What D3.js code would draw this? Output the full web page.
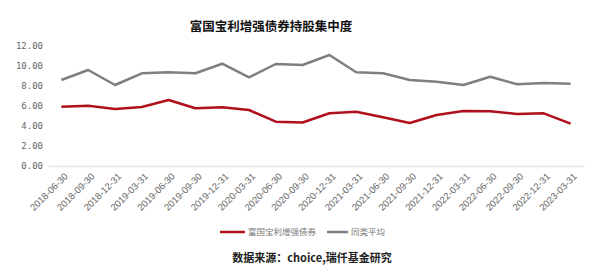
<!DOCTYPE html>
<html><head><meta charset="utf-8">
<script src="https://cdn.jsdelivr.net/npm/d3@7"></script>
<style>body{margin:0;background:#fff}svg{display:block}</style>
</head><body>
<svg id="c" width="600" height="277"></svg>
<script>
const categories = ["2018-06-30","2018-09-30","2018-12-31","2019-03-31","2019-06-30","2019-09-30","2019-12-31","2020-03-31","2020-06-30","2020-09-30","2020-12-31","2021-03-31","2021-06-30","2021-09-30","2021-12-31","2022-03-31","2022-06-30","2022-09-30","2022-12-31","2023-03-31"];
const fundValues = [5.93,6.03,5.70,5.90,6.60,5.77,5.87,5.60,4.43,4.35,5.27,5.43,4.87,4.30,5.10,5.50,5.47,5.20,5.27,4.23];
const peerValues = [8.60,9.60,8.10,9.27,9.37,9.27,10.23,8.87,10.20,10.10,11.10,9.37,9.27,8.60,8.43,8.10,8.93,8.17,8.30,8.23];
const yTicks = [0,2,4,6,8,10,12];
const seriesNames = ["富国宝利增强债券","同类平均"];
const title = "富国宝利增强债券持股集中度";
const source = "数据来源：choice,瑞仟基金研究";

const svg = d3.select("#c");
const x = d3.scaleBand().domain(categories).range([48,584]);
const y = d3.scaleLinear().domain([0,12]).range([166,46]);
const cx = d => x(d) + x.bandwidth()/2;

svg.append("text").attr("x",271).attr("y",31).attr("text-anchor","middle")
  .attr("font-family","Noto Sans CJK SC").attr("font-weight","bold").attr("font-size",12.5)
  .attr("fill","#111").text(title);

// y axis labels
const ya = svg.append("g").attr("transform","translate(43,0)")
  .call(d3.axisLeft(y).tickValues(yTicks).tickSize(0).tickPadding(0).tickFormat(d=>d3.format(".2f")(d)));
ya.select(".domain").remove();
ya.selectAll("text").attr("font-family","DejaVu Sans Mono, Liberation Mono").attr("font-size",9).attr("fill","#666");

// x axis
const xa = svg.append("g").attr("transform","translate(0,166)")
  .call(d3.axisBottom(x).tickSize(0).tickPadding(0));
xa.select(".domain").attr("stroke","#e4e4e4").attr("stroke-width",1.5);
xa.selectAll("text").attr("font-family","Liberation Sans Narrow, Liberation Sans").attr("font-size",9.5).attr("fill","#666")
  .attr("text-anchor","end").attr("dy",0)
  .attr("transform","translate(7,11) rotate(-45)");

const line = d3.line().x((d,i)=>cx(categories[i])).y(d=>y(d));
svg.append("path").datum(peerValues).attr("d",line).attr("fill","none").attr("stroke","#7f7f7f").attr("stroke-width",2.5).attr("stroke-linejoin","round");
svg.append("path").datum(fundValues).attr("d",line).attr("fill","none").attr("stroke","#b0101c").attr("stroke-width",2.5).attr("stroke-linejoin","round");

// legend
const colors = ["#b0101c","#7f7f7f"];
const lg = [{x0:220,x1:245,tx:248},{x0:327,x1:348,tx:351}];
seriesNames.forEach((n,i)=>{
  svg.append("line").attr("x1",lg[i].x0).attr("x2",lg[i].x1).attr("y1",232).attr("y2",232)
    .attr("stroke",colors[i]).attr("stroke-width",2.5);
  svg.append("text").attr("x",lg[i].tx).attr("y",235).attr("font-family","Noto Sans CJK SC")
    .attr("font-size",8.5).attr("fill","#777").text(n);
});

svg.append("text").attr("x",312).attr("y",262).attr("text-anchor","middle")
  .attr("font-family","Noto Sans CJK SC").attr("font-weight","bold").attr("font-size",11)
  .attr("fill","#222").text(source);
</script>
</body></html>
